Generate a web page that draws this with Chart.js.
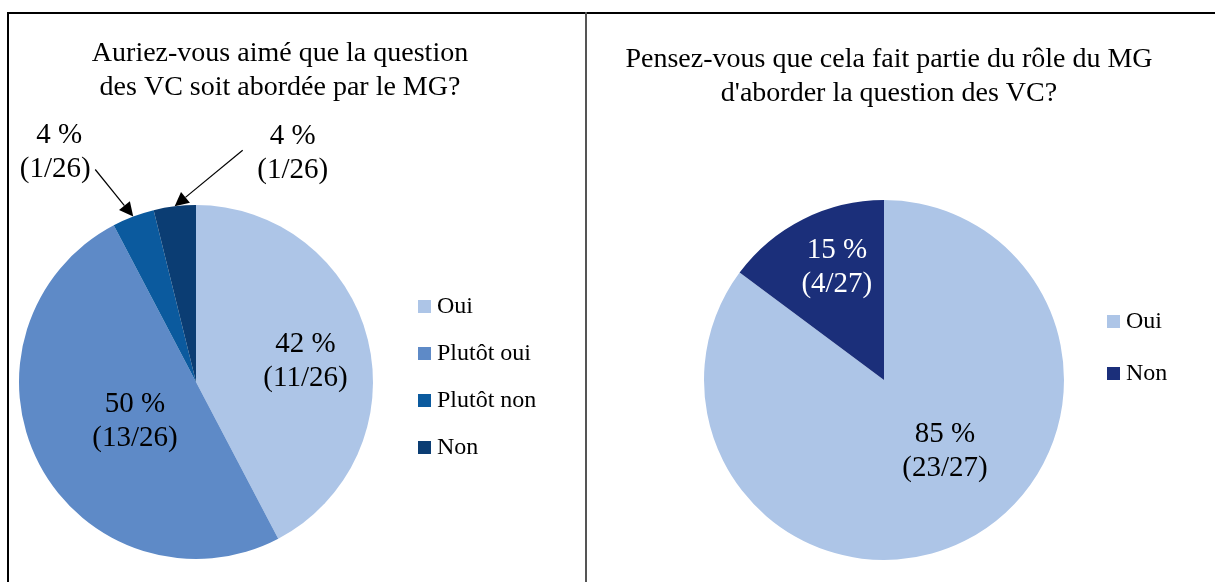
<!DOCTYPE html>
<html><head><meta charset="utf-8">
<script src="https://cdn.jsdelivr.net/npm/chart.js@4.4.0/dist/chart.umd.min.js"></script>
<style>
html,body{margin:0;padding:0;background:#fff;width:1215px;height:582px;overflow:hidden}
#wrap{position:relative;width:1215px;height:582px}
canvas{position:absolute;left:0;top:0}
.frame{position:absolute;background:#000}
</style></head><body>
<div id="wrap">
<div class="frame" style="left:7px;top:12px;width:1208px;height:1.5px"></div>
<div class="frame" style="left:7px;top:12px;width:1.5px;height:570px"></div>
<div class="frame" style="left:585px;top:12px;width:2px;height:570px;background:#555"></div>
<canvas id="c1" width="1215" height="582"></canvas>
<canvas id="c2" width="1215" height="582"></canvas>
</div>
<script>
// ---- data ----
const title1 = ["Auriez-vous aimé que la question", "des VC soit abordée par le MG?"];
const categories1 = ["Oui", "Plutôt oui", "Plutôt non", "Non"];
const counts1 = [11, 13, 1, 1];
const total1 = 26;
const percents1 = [42, 50, 4, 4];

const title2 = ["Pensez-vous que cela fait partie du rôle du MG", "d'aborder la question des VC?"];
const categories2 = ["Oui", "Non"];
const counts2 = [23, 4];
const total2 = 27;
const percents2 = [85, 15];

// ---- styles ----
const colors1 = ["#ADC5E7", "#5E8AC7", "#0B5A9E", "#0B3D73"];
const colors2 = ["#ADC5E7", "#1B2F7A"];
const FONT = "'Liberation Serif', 'Times New Roman', serif";

function labelText(p, c, t){ return [p + " %", "(" + c + "/" + t + ")"]; }

function arrow(ctx, x1, y1, x2, y2){
  ctx.save();
  ctx.strokeStyle = "#000"; ctx.fillStyle = "#000"; ctx.lineWidth = 1.2;
  const a = Math.atan2(y2 - y1, x2 - x1);
  const L = 14, W = 7;
  const bx = x2 - L*Math.cos(a), by = y2 - L*Math.sin(a);
  ctx.beginPath(); ctx.moveTo(x1, y1); ctx.lineTo(bx, by); ctx.stroke();
  ctx.beginPath(); ctx.moveTo(x2, y2);
  ctx.lineTo(bx + W*Math.sin(a), by - W*Math.cos(a));
  ctx.lineTo(bx - W*Math.sin(a), by + W*Math.cos(a));
  ctx.closePath(); ctx.fill();
  ctx.restore();
}

function decoPlugin(opts){
  return {
    id: 'deco',
    afterDatasetsDraw(chart){
      const ctx = chart.ctx;
      const meta = chart.getDatasetMeta(0);
      const ds = chart.data.datasets[0];
      ctx.save();
      ctx.fillStyle = "#000";
      ctx.textAlign = "center"; ctx.textBaseline = "middle";
      ctx.font = opts.titleSize + "px " + FONT;
      opts.title.forEach((t, i) => ctx.fillText(t, opts.titleX, opts.titleY + i*opts.titleGap));
      ctx.font = opts.legendSize + "px " + FONT;
      ctx.textAlign = "left";
      chart.data.labels.forEach((lab, i) => {
        const y = opts.legendY + i*opts.legendGap;
        ctx.fillStyle = ds.backgroundColor[i];
        ctx.fillRect(opts.legendX, y - 6, 13, 13);
        ctx.fillStyle = "#000";
        ctx.fillText(lab, opts.legendX + 19, y + 1);
      });
      ctx.font = opts.labelSize + "px " + FONT;
      ctx.textAlign = "center";
      meta.data.forEach((arc, i) => {
        const p = arc.getProps(['x','y','startAngle','endAngle','outerRadius'], true);
        const mid = (p.startAngle + p.endAngle)/2;
        const lines = labelText(opts.percents[i], opts.counts[i], opts.total);
        const spec = opts.labelSpec[i];
        if (spec.outside){
          const tx = p.x + p.outerRadius*Math.cos(mid);
          const ty = p.y + p.outerRadius*Math.sin(mid);
          const lx = tx + spec.dx, ly = ty + spec.dy;
          ctx.fillStyle = "#000";
          ctx.fillText(lines[0], lx + (spec.l0 || 0), ly - 17);
          ctx.fillText(lines[1], lx + (spec.l1 || 0), ly + 17);
          arrow(ctx, tx + spec.ax, ty + spec.ay, tx, ty);
        } else {
          const ang = mid + spec.da*Math.PI/180;
          const lx = p.x + spec.rf*p.outerRadius*Math.cos(ang);
          const ly = p.y + spec.rf*p.outerRadius*Math.sin(ang);
          ctx.fillStyle = spec.color || "#000";
          ctx.fillText(lines[0], lx, ly - 17);
          ctx.fillText(lines[1], lx, ly + 17);
        }
      });
      ctx.restore();
    }
  };
}

function makePie(id, labels, counts, colors, padding, deco){
  return new Chart(document.getElementById(id), {
    type: 'pie',
    data: { labels: labels, datasets: [{ data: counts, backgroundColor: colors, borderWidth: 0 }] },
    options: {
      responsive: false, animation: false, rotation: 0,
      layout: { padding: padding },
      plugins: { legend: { display: false }, tooltip: { enabled: false }, title: { display: false } },
      events: []
    },
    plugins: [decoPlugin(deco)]
  });
}

makePie('c1', categories1, counts1, colors1,
  { left: 19, right: 842, top: 205, bottom: 23 },
  { title: title1, titleX: 280, titleY: 54, titleGap: 34, titleSize: 28,
    legendX: 418, legendY: 306, legendGap: 47, legendSize: 24,
    labelSize: 29, percents: percents1, counts: counts1, total: total1,
    labelSpec: [
      { rf: 0.63, da: 3 },
      { rf: 0.41, da: -5 },
      { outside: true, dx: -76, dy: -64, ax: -38, ay: -47, l0: 2, l1: -2 },
      { outside: true, dx: 118, dy: -53, ax: 68, ay: -56 }
    ] });

makePie('c2', categories2, counts2, colors2,
  { left: 704, right: 151, top: 200, bottom: 22 },
  { title: title2, titleX: 889, titleY: 60, titleGap: 34, titleSize: 28,
    legendX: 1107, legendY: 321, legendGap: 52, legendSize: 24,
    labelSize: 29, percents: percents2, counts: counts2, total: total2,
    labelSpec: [
      { rf: 0.52, da: -14 },
      { rf: 0.68, da: 4, color: "#fff" }
    ] });
</script>
</body></html>
